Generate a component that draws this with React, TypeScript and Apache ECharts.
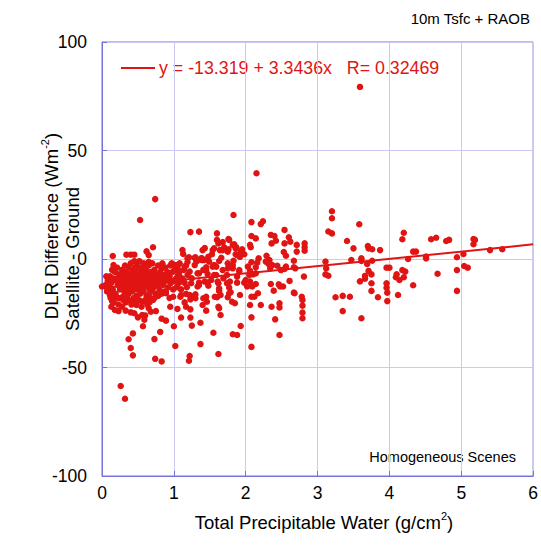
import React, { useEffect, useRef } from "react";
import * as echarts from "echarts";

// Axis ticks
const xTicks = [0, 1, 2, 3, 4, 5, 6];
const yTicks = [-100, -50, 0, 50, 100];

// Linear fit shown in the legend
const fitIntercept = -13.319;
const fitSlope = 3.3436;
const fitR = 0.32469;

// Scatter points [TPW (g/cm2), DLR difference (W m-2)], grouped by TPW range
const twpBelowOne: number[][] = [
  [0.74, 27.6], [0.53, 18], [0.71, 5.4], [0.62, 3.5], [0.65, 1.8], [0.15, 1.4], [0.34, 2], [0.40, 2], [0.45, 2],
  [0.52, -1], [0.65, -1.4], [0.16, -2.8], [0.17, -4.3], [0.06, -8], [0.26, -58.5], [0.32, -64.4], [0.43, -34.3],
  [0.37, -37], [0.40, -41], [0.43, -44.4], [0.81, -33.6], [0.73, -36.9], [0.74, -46], [0.83, -47.2], [0.57, -31],
  [0.59, -28], [0.83, -27.5], [0.89, -28.4], [0.50, -26.9], [0.56, -25.8], [0.13, -22], [0.18, -23.5], [0.23, -24],
  [0.33, -23.8], [0.40, -24.6], [0.68, -24.3], [0.65, -22.7], [0.11, -16.6], [0.14, -19.4], [0.23, -18], [0.29, -17.4],
  [0.56, -19.7], [0.63, -20], [0.69, -19], [0.89, -15.8], [0.94, -18], [0.99, -17.4], [0.06, -13], [0.09, -8.9],
  [0.0, -12.7], [0.13, -15.8], [0.16, -18.1], [0.34, -17.8], [0.43, -19.7], [0.48, -21.2], [0.66, -17.4], [0.71, -18.9],
  [0.89, -15], [0.83, -4.3], [0.85, -7.4], [0.80, -10.4], [0.85, -3.5], [1.01, -2.8], [0.97, -2],
  [0.18, -6], [0.2, -9], [0.22, -12], [0.24, -7], [0.25, -14], [0.27, -10], [0.28, -5], [0.29, -12], [0.3, -8],
  [0.31, -15], [0.32, -3], [0.33, -11], [0.34, -6], [0.35, -13], [0.36, -9], [0.37, -4], [0.37, -16], [0.38, -11],
  [0.39, -7], [0.4, -13], [0.4, -2], [0.41, -9], [0.42, -15], [0.43, -5], [0.43, -11], [0.44, -8], [0.45, -14],
  [0.45, -1], [0.46, -10], [0.47, -6], [0.48, -12], [0.48, -17], [0.49, -3], [0.5, -9], [0.5, -14], [0.51, -7],
  [0.52, -11], [0.53, -4], [0.53, -16], [0.54, -9], [0.55, -13], [0.56, -6], [0.57, -10], [0.58, -2], [0.58, -15],
  [0.59, -8], [0.6, -12], [0.61, -5], [0.62, -10], [0.62, -17], [0.63, -7], [0.64, -13], [0.65, -3], [0.66, -9],
  [0.67, -15], [0.68, -6], [0.69, -11], [0.7, -2], [0.71, -8], [0.72, -13], [0.73, -5], [0.74, -10], [0.75, -16],
  [0.76, -7], [0.77, -12], [0.78, -3], [0.79, -9], [0.8, -14], [0.81, -6], [0.82, -11], [0.84, -2], [0.85, -12],
  [0.86, -8], [0.87, -15], [0.88, -4], [0.9, -10], [0.91, -6], [0.92, -13], [0.94, -8], [0.95, -3], [0.96, -11],
  [0.98, -6], [0.99, -14], [0.05, -12], [0.07, -15], [0.08, -10], [0.1, -13], [0.11, -8], [0.12, -18], [0.13, -11],
  [0.14, -5], [0.15, -14], [0.16, -9], [0.17, -20], [0.19, -16], [0.21, -4], [0.23, -21], [0.26, -18], [0.28, -22],
  [0.3, -19], [0.33, -20], [0.35, -17], [0.38, -19], [0.41, -21], [0.44, -18], [0.47, -20], [0.52, -19], [0.55, -22],
  [0.6, -19], [0.63, -21], [0.66, -20], [0.7, -15], [0.73, -18], [0.78, -17], [0.83, -16], [0.2, -10], [0.24, -11],
  [0.27, -8], [0.3, -13], [0.32, -7], [0.34, -10], [0.36, -12], [0.39, -14], [0.42, -7], [0.44, -12], [0.46, -4],
  [0.49, -10], [0.51, -13], [0.54, -6], [0.56, -11], [0.57, -14], [0.59, -4], [0.61, -9], [0.64, -8], [0.67, -11],
  [0.69, -6], [0.72, -9], [0.75, -12], [0.77, -8], [0.8, -11], [0.83, -9], [0.87, -10], [0.89, -7], [0.93, -9],
  [0.97, -10], [0.45, -25], [0.6, -26], [0.75, -24], [0.95, -22],
];

const twpOneToTwo: number[][] = [
  [1.01, -5], [1.03, -9], [1.04, -13], [1.06, -7], [1.07, -11], [1.08, -2], [1.1, -14], [1.12, -9], [1.14, -5],
  [1.15, -11], [1.17, -3], [1.18, -13], [1.05, -23], [1.15, -20], [1.1, -27], [1.0, -31],
  [1.23, 12.4], [1.35, 12.6], [1.60, 11.8], [1.60, 8.8], [1.62, 7.2], [1.76, 9.2], [1.68, 7.8], [1.84, 6.8],
  [1.70, 5.4], [1.76, 4.5], [1.87, 5.4], [1.43, 5], [1.54, 4.1], [1.64, 4.1], [1.12, 4.1], [1.13, 2.3], [1.95, 4.5],
  [1.98, 2.2], [1.93, 1.8], [1.21, 0.8], [1.30, 0.8], [1.39, 0.3], [1.48, 1], [1.66, 0.6], [1.86, 2.2], [1.92, 1],
  [1.05, -3.5], [1.19, -1.4], [1.32, -1], [1.39, -0.5], [1.49, -1.2], [1.56, -2.8], [1.63, -0.9], [1.75, -2],
  [1.83, -0.8], [1.45, -3.8], [1.59, -3.5], [1.68, -5.1], [1.82, -4.3], [1.91, -5.8], [1.06, -5.1], [1.19, -7.4],
  [1.33, -6.6], [1.41, -5], [1.47, -6.9], [1.56, -7.4], [1.74, -7.4], [1.88, -8.1], [1.08, -8.1], [1.05, -10.4],
  [1.24, -11.2], [1.35, -10.9], [1.47, -10.9], [1.61, -10.4], [1.74, -11.2], [1.88, -10.9], [1.33, -12.7],
  [1.63, -13.5], [1.77, -13.2], [1.48, -12.3], [1.98, -10.9], [1.09, -17.4], [1.17, -16.1], [1.23, -17],
  [1.30, -16.3], [1.41, -18.1], [1.46, -19.7], [1.60, -17.6], [1.63, -14.7], [1.75, -17.6], [1.79, -15.3],
  [1.85, -20.4], [1.92, -16.6], [1.23, -18.6], [1.81, -19.7], [1.23, -23.2], [1.45, -23.8], [1.63, -22.7],
  [1.65, -25.8], [1.23, -27], [1.37, -29.4], [1.25, -30.7], [1.93, -30.9], [1.55, -34], [1.82, -34.7], [1.88, -35],
  [1.02, -40.1], [1.37, -39.2], [1.22, -44.7], [1.21, -46.9], [1.62, -43.8], [1.83, 20.3], [1.19, 0.3], [1.29, 0.6],
  [1.31, -0.5], [1.40, 4.1], [1.38, 0.3], [1.42, -0.5], [1.56, 4.9], [1.53, 2.2], [1.77, 8.8], [1.82, 6.5],
  [1.68, 4.1], [1.75, 3.4], [1.86, 4.9], [1.93, 3.4], [1.88, 1.8], [1.03, -2.8], [1.08, -5.8], [1.15, -3.5],
  [1.22, -5.8], [1.29, -2.8], [1.35, -6.6], [1.45, -5.1], [1.54, -3.5], [1.59, -7.4], [1.75, -4.3], [1.82, -2.8],
  [1.91, -5.1], [1.03, -10.4], [1.12, -9.7], [1.25, -8.9], [1.35, -12], [1.43, -10.4], [1.52, -9.7], [1.62, -11.2],
  [1.69, -8.9], [1.78, -10.4], [1.10, -16.6], [1.22, -16.6], [1.30, -18.1], [1.45, -17.4], [1.57, -17.4],
  [1.65, -16.6], [1.77, -15.8], [1.17, -22], [1.40, -21.2], [1.62, -22],
];

const twpTwoToThree: number[][] = [
  [2.08, 17], [2.08, 10.6], [2.06, 6.5], [2.08, -1.5], [2.03, -3.5], [2.05, -7.4], [2.0, -9.7], [2.02, -12.7],
  [2.06, -10.4], [2.08, -17.4], [2.06, -21.2], [2.08, -26.9], [2.08, -40.5], [2.15, 39.5], [2.21, 16.1],
  [2.24, 17.4], [2.54, 13.4], [2.14, 9.5], [2.35, 11.1], [2.40, 10.6], [2.42, 8.4], [2.36, 7.2], [2.60, 10],
  [2.62, 8], [2.54, 7.2], [2.71, 6.5], [2.82, 7.2], [2.82, 5.4], [2.07, 5.4], [2.53, 3.2], [2.56, 1.5], [2.71, 3.4],
  [2.82, 3.8], [2.29, 1.5], [2.33, -0.5], [2.18, 0.3], [2.67, -0.8], [2.67, -3.8], [2.69, -4.3], [2.16, -1.7],
  [2.14, -3.8], [2.06, -5.5], [2.10, -7.1], [2.14, -6.6], [2.28, -1.2], [2.32, -2.3], [2.34, -4.3], [2.37, -2.8],
  [2.44, -3.1], [2.49, -5.1], [2.56, -3.5], [2.54, -4.6], [2.81, -8.1], [2.09, -12.7], [2.14, -11.5], [2.35, -11.5],
  [2.46, -11.7], [2.48, -12.7], [2.52, -12.7], [2.61, -10.1], [2.39, -14.6], [2.67, -15.5], [2.78, -17.4],
  [2.17, -15.8], [2.12, -17.4], [2.21, -21.2], [2.68, -15.8], [2.79, -18.9], [2.79, -21.5], [2.79, -24.7],
  [2.79, -27.3], [2.36, -22], [2.47, -20.4], [2.47, -22.3], [2.41, -27.8], [2.47, -35],
];

const twpAboveThree: number[][] = [
  [3.20, 22], [3.20, 18.8], [3.15, 12.7], [3.20, 11.8], [3.41, 8.3], [3.11, -1.2], [3.12, -4.3], [3.11, -7.1],
  [3.15, -7.7], [3.25, -17.6], [3.35, -17], [3.35, -24], [3.58, 16], [3.50, 4.9], [3.70, 6], [3.71, 4.9],
  [3.76, 4.5], [3.87, 4.1], [4.20, 12.1], [4.18, 9.1], [4.58, 9.1], [4.65, 9.8], [4.79, 8.3], [4.83, 8.8],
  [5.17, 9.2], [5.19, 8.8], [5.17, 6.8], [5.40, 4.1], [4.33, 3.4], [4.37, 3.4], [4.26, 0], [4.51, 1.1], [4.51, 0.3],
  [3.47, -0.5], [3.61, 0.3], [3.61, -0.9], [3.76, -0.8], [3.69, -2.3], [4.94, 0.8], [5.03, 2.3], [3.96, -4],
  [4.0, -4], [3.71, -5.5], [3.75, -7.1], [3.66, -7.8], [3.66, -9.1], [3.59, -10.3], [4.18, -5.1], [4.22, -5.8],
  [4.10, -7.1], [4.09, -8.4], [4.14, -9.7], [4.20, -8.4], [4.67, -6.8], [4.94, -5.1], [5.04, -3.2], [5.09, -4],
  [3.75, -11.2], [3.96, -11.2], [3.96, -13.2], [3.97, -15.5], [4.33, -12.1], [3.75, -14.7], [3.84, -17.6],
  [4.12, -16.6], [4.94, -14.7], [3.45, -17.4], [3.97, -19.4], [3.61, -27.3], [3.59, 79.3], [5.57, 4.5],
];

const RED = "#e11414";
const FRAME = "#7474dc";
const GRIDC = "#c9c9f3";
const FONT = "'Liberation Sans', Arial, Helvetica, sans-serif";

export default function App() {
  const ref = useRef<HTMLDivElement>(null);
  useEffect(() => {
    document.body.style.margin = "0";
    const chart = echarts.init(ref.current!, null, { renderer: "svg" });
    const allPoints = [...twpBelowOne, ...twpOneToTwo, ...twpTwoToThree, ...twpAboveThree];
    const xMin = xTicks[0];
    const xMax = xTicks[xTicks.length - 1];
    const fitLine = [
      [xMin, fitIntercept + fitSlope * xMin],
      [xMax, fitIntercept + fitSlope * xMax],
    ];
    const richTitle = {
      a: { fontSize: 18.5, fontFamily: FONT, fill: "#000", lineHeight: 22, verticalAlign: "bottom" },
      s: { fontSize: 11, fontFamily: FONT, fill: "#000", lineHeight: 22, verticalAlign: "top" },
    };
    chart.setOption({
      animation: false,
      grid: { left: 102, right: 5, top: 42, bottom: 71, show: true, borderColor: FRAME, borderWidth: 1 },
      xAxis: {
        type: "value",
        min: xMin,
        max: xMax,
        interval: 1,
        axisLine: { show: true, onZero: false, lineStyle: { color: FRAME } },
        axisTick: { show: true, inside: true, length: 5, lineStyle: { color: FRAME } },
        axisLabel: { color: "#000", fontSize: 17.5, fontFamily: FONT, margin: 8 },
        splitLine: { show: true, lineStyle: { color: GRIDC, width: 1 } },
      },
      yAxis: {
        type: "value",
        min: yTicks[0],
        max: yTicks[yTicks.length - 1],
        interval: 50,
        axisLine: { show: true, onZero: false, lineStyle: { color: FRAME } },
        axisTick: { show: true, inside: true, length: 5, lineStyle: { color: FRAME } },
        axisLabel: { color: "#000", fontSize: 17.5, fontFamily: FONT, margin: 15 },
        splitLine: { show: true, lineStyle: { color: GRIDC, width: 1 } },
      },
      series: [
        {
          type: "scatter",
          data: allPoints,
          symbol: "circle",
          symbolSize: 6.5,
          itemStyle: { color: RED, opacity: 1 },
          z: 2,
        },
        {
          type: "line",
          data: fitLine,
          showSymbol: false,
          lineStyle: { color: RED, width: 2 },
          z: 3,
        },
      ],
      graphic: [
        {
          type: "line",
          shape: { x1: 121, y1: 68, x2: 155, y2: 68 },
          style: { stroke: RED, lineWidth: 2 },
        },
        {
          type: "text",
          x: 159,
          y: 68,
          style: {
            text: `y = ${fitIntercept} + ${fitSlope}x   R= ${fitR}`,
            fill: RED,
            font: `17.8px ${FONT}`,
            textAlign: "left",
            textVerticalAlign: "middle",
          },
        },
        {
          type: "text",
          x: 530,
          y: 18,
          style: {
            text: "10m Tsfc + RAOB",
            fill: "#000",
            font: `15px ${FONT}`,
            textAlign: "right",
            textVerticalAlign: "middle",
          },
        },
        {
          type: "text",
          x: 516,
          y: 457,
          style: {
            text: "Homogeneous Scenes",
            fill: "#000",
            font: `14.5px ${FONT}`,
            textAlign: "right",
            textVerticalAlign: "middle",
          },
        },
        {
          type: "text",
          x: 324,
          y: 521,
          style: {
            text: "{a|Total Precipitable Water (g/cm}{s|2}{a|)}",
            rich: richTitle,
            textAlign: "center",
            textVerticalAlign: "middle",
          },
        },
        {
          type: "text",
          x: 50,
          y: 226,
          rotation: Math.PI / 2,
          style: {
            text: "{a|DLR Difference (Wm}{s|-2}{a|)}",
            rich: richTitle,
            textAlign: "center",
            textVerticalAlign: "middle",
          },
        },
        {
          type: "text",
          x: 72,
          y: 259,
          rotation: Math.PI / 2,
          style: {
            text: "Satellite - Ground",
            fill: "#000",
            font: `18.5px ${FONT}`,
            textAlign: "center",
            textVerticalAlign: "middle",
          },
        },
      ],
    });
    return () => chart.dispose();
  }, []);
  return (
    <div
      ref={ref}
      style={{ position: "fixed", left: 0, top: 0, width: 541, height: 547, background: "#fff" }}
    />
  );
}
